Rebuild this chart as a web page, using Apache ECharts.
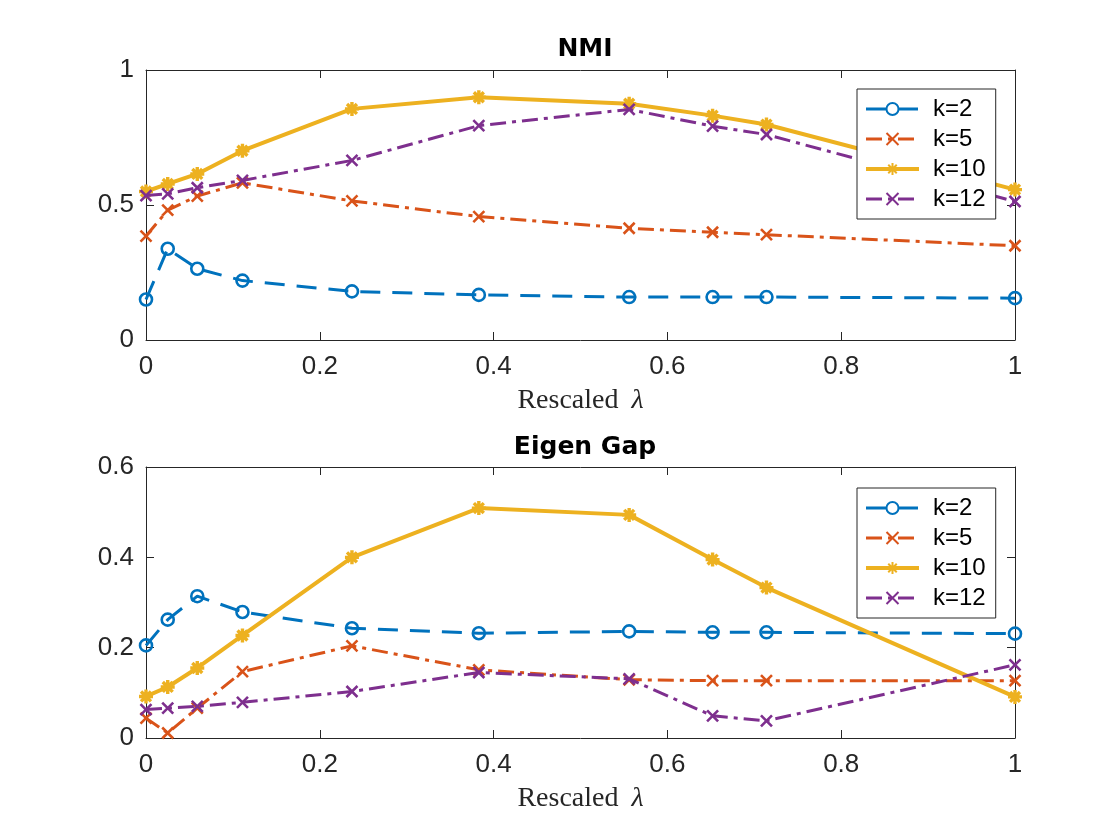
<!DOCTYPE html>
<html>
<head>
<meta charset="utf-8">
<script src="https://cdn.jsdelivr.net/npm/echarts@6/dist/echarts.min.js"></script>
<style>
html,body{margin:0;padding:0;background:#fff;}
#chart{width:1120px;height:840px;}
</style>
</head>
<body>
<div id="chart"></div>
<script>
// ---- data ----
const lambdaVals = [0, 0.025, 0.059, 0.111, 0.237, 0.383, 0.556, 0.652, 0.714, 1];
const seriesNames = ['k=2', 'k=5', 'k=10', 'k=12'];
const nmiK2  = [0.150, 0.338, 0.264, 0.220, 0.180, 0.167, 0.159, 0.159, 0.159, 0.155];
const nmiK5  = [0.385, 0.481, 0.533, 0.582, 0.515, 0.457, 0.414, 0.399, 0.390, 0.349];
const nmiK10 = [0.550, 0.578, 0.615, 0.701, 0.856, 0.899, 0.875, 0.831, 0.798, 0.557];
const nmiK12 = [0.535, 0.541, 0.564, 0.591, 0.665, 0.794, 0.854, 0.792, 0.761, 0.513];
const egK2   = [0.205, 0.262, 0.314, 0.279, 0.243, 0.232, 0.236, 0.234, 0.234, 0.231];
const egK5   = [0.044, 0.011, 0.066, 0.147, 0.204, 0.151, 0.129, 0.127, 0.127, 0.127];
const egK10  = [0.092, 0.113, 0.155, 0.227, 0.400, 0.509, 0.494, 0.395, 0.333, 0.091];
const egK12  = [0.063, 0.066, 0.070, 0.079, 0.103, 0.145, 0.131, 0.049, 0.038, 0.162];
const titles = ['NMI', 'Eigen Gap'];
const xAxisName = 'Rescaled {l|λ}';

// ---- styles ----
const colors = ['#0072BD', '#D95319', '#EDB120', '#7E2F8E'];
const axisColor = '#262626';
const xMark = 'path://M0,0L10,10M10,0L0,10';
const starMark = 'path://M5,0L5,10M0,5L10,5M1.46,1.46L8.54,8.54M8.54,1.46L1.46,8.54';
const styleDefs = [
  {symbol: 'circle', size: 12, lw: 3, type: [20, 12], fill: 'rgba(0,0,0,0)', bw: 2.6},
  {symbol: xMark, size: 11, lw: 3, type: [16, 6, 4, 6], fill: colors[1], bw: 2.6},
  {symbol: starMark, size: 14, lw: 4, type: 'solid', fill: colors[2], bw: 3.4},
  {symbol: xMark, size: 11, lw: 3, type: [16, 6, 4, 6], fill: colors[3], bw: 2.6}
];

const grids = [
  {left: 146, width: 869, top: 70, height: 270},
  {left: 146, width: 869, top: 467, height: 271}
];
const yRanges = [{min: 0, max: 1, interval: 0.5}, {min: 0, max: 0.6, interval: 0.2}];

const xAxes = [], yAxes = [];
grids.forEach((g, gi) => {
  xAxes.push({
    type: 'value', gridIndex: gi, min: 0, max: 1, interval: 0.2, position: 'bottom',
    name: xAxisName, nameLocation: 'middle', nameGap: 47,
    nameTextStyle: {fontFamily: 'Liberation Serif', fontSize: 28, color: axisColor,
      rich: {l: {fontFamily: 'Liberation Serif', fontStyle: 'italic', fontSize: 28, color: axisColor, padding: [0, 0, 0, 6]}}},
    axisLine: {show: true, onZero: false, lineStyle: {color: axisColor, width: 1}},
    axisTick: {show: true, inside: true, length: 8, lineStyle: {color: axisColor}},
    axisLabel: {show: true, margin: 14, fontFamily: 'Liberation Sans', fontSize: 26, color: axisColor,
      formatter: v => String(+v.toFixed(1))},
    splitLine: {show: false}
  });
  xAxes.push({
    type: 'value', gridIndex: gi, min: 0, max: 1, interval: 0.2, position: 'top',
    axisLine: {show: true, onZero: false, lineStyle: {color: axisColor, width: 1}},
    axisTick: {show: true, inside: true, length: 8, lineStyle: {color: axisColor}},
    axisLabel: {show: false}, splitLine: {show: false}
  });
  yAxes.push({
    type: 'value', gridIndex: gi, min: yRanges[gi].min, max: yRanges[gi].max, interval: yRanges[gi].interval, position: 'left',
    axisLine: {show: true, onZero: false, lineStyle: {color: axisColor, width: 1}},
    axisTick: {show: true, inside: true, length: 8, lineStyle: {color: axisColor}},
    axisLabel: {show: true, margin: 12, fontFamily: 'Liberation Sans', fontSize: 26, color: axisColor,
      formatter: v => String(+v.toFixed(1))},
    splitLine: {show: false}
  });
  yAxes.push({
    type: 'value', gridIndex: gi, min: yRanges[gi].min, max: yRanges[gi].max, interval: yRanges[gi].interval, position: 'right',
    axisLine: {show: true, onZero: false, lineStyle: {color: axisColor, width: 1}},
    axisTick: {show: true, inside: true, length: 8, lineStyle: {color: axisColor}},
    axisLabel: {show: false}, splitLine: {show: false}
  });
});

const panelData = [[nmiK2, nmiK5, nmiK10, nmiK12], [egK2, egK5, egK10, egK12]];
const series = [];
panelData.forEach((set, gi) => {
  set.forEach((vals, si) => {
    const s = styleDefs[si];
    series.push({
      name: seriesNames[si], type: 'line', xAxisIndex: gi * 2, yAxisIndex: gi * 2,
      data: lambdaVals.map((x, i) => [x, vals[i]]),
      symbol: s.symbol, symbolSize: s.size, showAllSymbol: true,
      lineStyle: {color: colors[si], width: s.lw, type: s.type},
      itemStyle: {color: s.fill, borderColor: colors[si], borderWidth: s.bw},
      emphasis: {disabled: true}, z: 2 + si
    });
  });
});

const legendBase = {
  orient: 'vertical', left: 857, data: seriesNames, z: 30,
  itemWidth: 53, itemHeight: 15, itemGap: 6,
  padding: [8, 10, 8, 7],
  borderColor: axisColor, borderWidth: 1, backgroundColor: '#fff',
  lineStyle: {width: 'inherit', type: 'inherit'},
  textStyle: {fontFamily: 'Liberation Sans', fontSize: 24, lineHeight: 24, color: '#000', padding: [0, 0, 0, 9]},
  selectedMode: false
};

const option = {
  animation: false,
  backgroundColor: '#fff',
  title: [
    {text: titles[0], left: 580, top: 32, textAlign: 'center',
      textStyle: {fontFamily: 'DejaVu Sans', fontWeight: 'bold', fontSize: 25, color: '#000'}},
    {text: titles[1], left: 580, top: 430, textAlign: 'center',
      textStyle: {fontFamily: 'DejaVu Sans', fontWeight: 'bold', fontSize: 25, color: '#000'}}
  ],
  legend: [
    Object.assign({}, legendBase, {top: 89}),
    Object.assign({}, legendBase, {top: 488})
  ],
  grid: grids,
  xAxis: xAxes,
  yAxis: yAxes,
  series: series
};

const chart = echarts.init(document.getElementById('chart'), null, {renderer: 'canvas'});
chart.setOption(option);
</script>
</body>
</html>
